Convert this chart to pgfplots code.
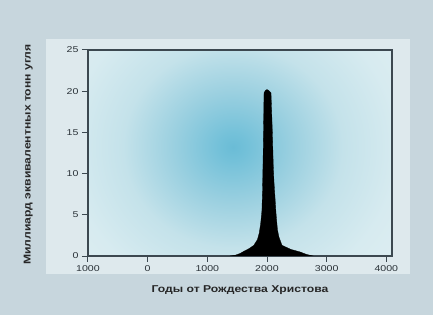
\documentclass[border=0pt]{standalone}
\usepackage{pgfplots}
\pgfplotsset{compat=1.18}
\usepackage{fontspec}
\setmainfont{Liberation Sans}[FakeStretch=1.25]
\newfontfamily\labfont{Liberation Sans}[FakeStretch=1.22]
\definecolor{outerbg}{RGB}{199,214,221}
\definecolor{innerbg}{RGB}{222,233,237}
\definecolor{axcol}{RGB}{60,72,80}
\definecolor{g0}{RGB}{106,188,214}
\definecolor{g1}{RGB}{116,193,217}
\definecolor{g2}{RGB}{155,208,224}
\definecolor{g3}{RGB}{196,226,234}
\definecolor{g4}{RGB}{215,235,240}
\definecolor{g5}{RGB}{223,238,242}
\pgfdeclareradialshading{spot}{\pgfpoint{0bp}{0bp}}{color(0bp)=(g0); color(15bp)=(g1); color(60bp)=(g2); color(110bp)=(g3); color(165bp)=(g4); color(220bp)=(g5)}
\begin{document}
\begin{tikzpicture}
\fill[outerbg] (-88bp,-59bp) rectangle (345bp,256bp);
\useasboundingbox (-88bp,-59bp) rectangle (345bp,256bp);
\fill[innerbg] (-42bp,-18bp) rectangle (322bp,217bp);
\begin{scope}
\clip (0,0) rectangle (304bp,206bp);
\node[inner sep=0pt, outer sep=0pt, yscale=0.92, transform shape] at (145bp,109bp) {\pgfuseshading{spot}};
\end{scope}
\begin{axis}[
  scale only axis, width=304bp, height=206bp,
  xmin=-1000, xmax=4095, ymin=0, ymax=25,
  axis line style={axcol, line width=1.2bp},
  xtick={-1000,0,1000,2000,3000,4000},
  xticklabels={1000,0,1000,2000,3000,4000},
  ytick={0,5,10,15,20,25},
  tick align=outside, tick pos=left,
  major tick length=6bp,
  tick style={axcol, line width=1bp},
  /pgf/number format/assume math mode=true,
  ticklabel style={font=\fontsize{8.5}{10}\selectfont, text=axcol!70!black},
  xlabel={Годы от Рождества Христова},
  ylabel={Миллиард эквивалентных тонн угля},
  label style={font=\labfont\bfseries\fontsize{10}{12}\selectfont, text=black!85},
  xlabel style={at={(axis description cs:0.5,-0.165)}, anchor=center},
  ylabel style={at={(axis description cs:-0.197,0.493)}, anchor=center},
]
\addplot[fill=black, draw=black, line width=0.3bp] coordinates {
(1380,0) (1470,0.1) (1547,0.3) (1620,0.6) (1700,0.9) (1780,1.3) (1840,2.0)
(1870,2.8) (1895,4) (1915,5.5) (1925,8) (1935,12) (1945,17) (1950,19.8)
(1975,20.1) (2000,20.2) (2025,20.1) (2067,19.8) (2090,15) (2105,11)
(2117,9) (2135,7) (2151,5.2) (2175,3.2) (2200,2.3) (2251,1.3) (2400,0.8)
(2551,0.5) (2660,0.2) (2771,0)
} \closedcycle;
\end{axis}
\end{tikzpicture}
\end{document}
